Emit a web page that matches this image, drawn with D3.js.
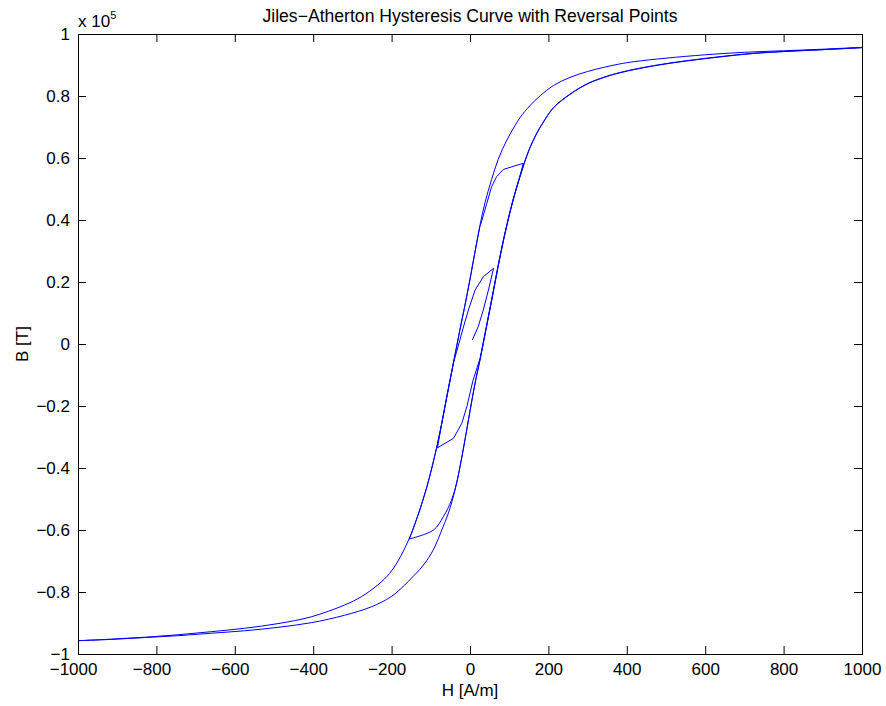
<!DOCTYPE html>
<html>
<head>
<meta charset="utf-8">
<script src="https://cdnjs.cloudflare.com/ajax/libs/d3/7.8.5/d3.min.js"></script>
<style>
    body { margin: 0; background: #fff; }
    svg text { font-family: "Liberation Sans", Arial, Helvetica, sans-serif; fill: #000; }
</style>
</head>
<body>
<div id="chart"></div>
<script>
// Datos: pares [H (A/m), B (en unidades de 1e5 T)]

// Curva inicial desde el origen hasta el primer punto de inversión
const initialCurve = [[6, 0.013], [21, 0.056], [34, 0.110], [47, 0.174], [60, 0.244]];

// Primer bucle menor: bajada 60 -> -83 y subida -83 -> 136
const minorDesc1 = [[60, 0.244], [34, 0.217], [13, 0.174], [-4, 0.110], [-16, 0.058], [-28, 0.003],
    [-42, -0.060], [-58, -0.162], [-72, -0.255], [-83, -0.335]];
const minorAsc1 = [[-83, -0.335], [-42, -0.304], [-21, -0.256], [-8, -0.202], [8, -0.116], [26, -0.045],
    [42, 0.058], [58, 0.162], [72, 0.255], [85, 0.335], [98, 0.407], [110, 0.467], [128, 0.545], [136, 0.583]];

// Segundo bucle menor: bajada 136 -> -155 y subida -155 -> 1000
const minorDesc2 = [[136, 0.583], [85, 0.563], [68, 0.540], [55, 0.507], [42, 0.450], [30, 0.397],
    [25, 0.378], [13, 0.298], [0, 0.208], [-13, 0.123], [-26, 0.043], [-42, -0.060], [-58, -0.164],
    [-72, -0.257], [-85, -0.335], [-98, -0.404], [-110, -0.462], [-128, -0.536], [-150, -0.614], [-155, -0.629]];
const minorAsc2 = [[-155, -0.629], [-93, -0.600], [-68, -0.557], [-47, -0.503], [-34, -0.448], [-25, -0.393],
    [-13, -0.311], [0, -0.217], [13, -0.127], [26, -0.049], [42, 0.054], [58, 0.158], [72, 0.251],
    [85, 0.331], [98, 0.403], [110, 0.463], [128, 0.541], [150, 0.623], [170, 0.678], [185, 0.711],
    [213, 0.762], [255, 0.805], [298, 0.838], [340, 0.859], [383, 0.875], [468, 0.897], [553, 0.913],
    [638, 0.926], [723, 0.937], [808, 0.944], [893, 0.949], [1000, 0.956]];

// Bucle mayor: rama descendente (1000 -> -1000) y rama ascendente (-1000 -> 1000)
const upperBranch = [[1000, 0.957], [900, 0.951], [800, 0.946], [700, 0.941], [600, 0.933], [500, 0.922],
    [420, 0.911], [380, 0.903], [340, 0.892], [300, 0.879], [255, 0.860], [213, 0.834], [180, 0.802],
    [153, 0.769], [128, 0.731], [115, 0.705], [93, 0.655], [72, 0.596], [55, 0.530], [38, 0.455],
    [25, 0.380], [13, 0.300], [0, 0.210], [-13, 0.125], [-26, 0.045], [-42, -0.058], [-58, -0.162],
    [-72, -0.255], [-85, -0.333], [-98, -0.402], [-110, -0.460], [-128, -0.534], [-150, -0.612],
    [-170, -0.668], [-185, -0.703], [-205, -0.740], [-235, -0.777], [-277, -0.815], [-320, -0.842],
    [-405, -0.880], [-490, -0.902], [-575, -0.917], [-660, -0.928], [-745, -0.938], [-830, -0.946],
    [-915, -0.952], [-1000, -0.957]];
const lowerBranch = [[-1000, -0.957], [-915, -0.953], [-830, -0.947], [-745, -0.941], [-660, -0.933],
    [-575, -0.925], [-490, -0.914], [-405, -0.899], [-320, -0.875], [-252, -0.848], [-201, -0.815],
    [-167, -0.778], [-150, -0.756], [-128, -0.727], [-110, -0.698], [-90, -0.655], [-72, -0.600],
    [-55, -0.545], [-38, -0.470], [-25, -0.392], [-13, -0.310], [0, -0.215], [13, -0.125], [26, -0.047],
    [42, 0.056], [58, 0.160], [72, 0.253], [85, 0.333], [98, 0.405], [110, 0.465], [128, 0.543],
    [150, 0.625], [170, 0.680], [185, 0.712], [213, 0.763], [255, 0.806], [298, 0.839], [340, 0.860],
    [383, 0.876], [468, 0.898], [553, 0.914], [638, 0.927], [723, 0.938], [808, 0.944], [893, 0.949],
    [1000, 0.956]];

// Marcas de los ejes
const xTicks = [-1000, -800, -600, -400, -200, 0, 200, 400, 600, 800, 1000];
const yTicks = [-1, -0.8, -0.6, -0.4, -0.2, 0, 0.2, 0.4, 0.6, 0.8, 1];

// Dimensiones de la figura
const width = 886, height = 706;
const margin = { top: 34, right: 24, bottom: 52, left: 78 };
const innerW = width - margin.left - margin.right;
const innerH = height - margin.top - margin.bottom;
const fontSize = "17px";

const svg = d3.select("#chart").append("svg")
    .attr("width", width)
    .attr("height", height);

const g = svg.append("g")
    .attr("transform", `translate(${margin.left},${margin.top})`);

const x = d3.scaleLinear().domain([-1000, 1000]).range([0, innerW]);
const y = d3.scaleLinear().domain([-1, 1]).range([innerH, 0]);

// Formato tipo MATLAB con signo menos tipográfico
const fmt = v => (v < 0 ? "\u2212" : "") + Math.abs(v);

// Ejes con marcas hacia dentro en los cuatro lados
const axes = [
    { axis: d3.axisBottom(x).tickValues(xTicks).tickFormat(fmt).tickPadding(9), t: `translate(0,${innerH})`, bottom: true },
    { axis: d3.axisTop(x).tickValues(xTicks).tickFormat(""), t: "translate(0,0)" },
    { axis: d3.axisLeft(y).tickValues(yTicks).tickFormat(fmt).tickPadding(8), t: "translate(0,0)" },
    { axis: d3.axisRight(y).tickValues(yTicks).tickFormat(""), t: `translate(${innerW},0)` }
];
axes.forEach(a => {
    const ax = g.append("g")
        .attr("transform", a.t)
        .call(a.axis.tickSizeInner(-8).tickSizeOuter(0));
    ax.select(".domain").remove();
    ax.selectAll(".tick line").attr("stroke", "#000");
    ax.selectAll(".tick text").style("font-size", fontSize).attr("fill", "#000");
    // En MATLAB las cifras quedan centradas y el signo menos cuelga a la izquierda
    if (a.bottom) ax.selectAll(".tick text").filter(d => d < 0).attr("dx", "-0.29em");
});

// Curvas: los bucles menores en tramos rectos, el bucle mayor suavizado
const lineLinear = d3.line().x(d => x(d[0])).y(d => y(d[1]));
const lineSmooth = d3.line().x(d => x(d[0])).y(d => y(d[1])).curve(d3.curveCatmullRom.alpha(0.5));

const plot = g.append("g");
[initialCurve, minorDesc1, minorAsc1, minorDesc2].forEach(seg => {
    plot.append("path").attr("d", lineLinear(seg))
        .attr("fill", "none").attr("stroke", "#0000ff").attr("stroke-width", 1);
});
[minorAsc2, upperBranch, lowerBranch].forEach(seg => {
    plot.append("path").attr("d", lineSmooth(seg))
        .attr("fill", "none").attr("stroke", "#0000ff").attr("stroke-width", 1);
});

// Marco del área de trazado
g.append("rect")
    .attr("x", 0.5).attr("y", 0.5)
    .attr("width", innerW).attr("height", innerH)
    .attr("fill", "none").attr("stroke", "#000").attr("stroke-width", 1);

// Título y etiquetas
svg.append("text")
    .attr("x", margin.left + innerW / 2).attr("y", 22)
    .attr("text-anchor", "middle").style("font-size", "17.6px")
    .text("Jiles\u2212Atherton Hysteresis Curve with Reversal Points");

svg.append("text")
    .attr("x", margin.left + innerW / 2).attr("y", 696)
    .attr("text-anchor", "middle").style("font-size", fontSize)
    .text("H [A/m]");

svg.append("text")
    .attr("transform", `translate(28,${margin.top + innerH / 2}) rotate(-90)`)
    .attr("text-anchor", "middle").style("font-size", fontSize)
    .text("B [T]");

// Factor de escala del eje Y
const mult = svg.append("text")
    .attr("x", margin.left).attr("y", 27)
    .style("font-size", fontSize);
mult.append("tspan").text("x 10");
mult.append("tspan").attr("dy", -8).style("font-size", "11px").text("5");
</script>
</body>
</html>
